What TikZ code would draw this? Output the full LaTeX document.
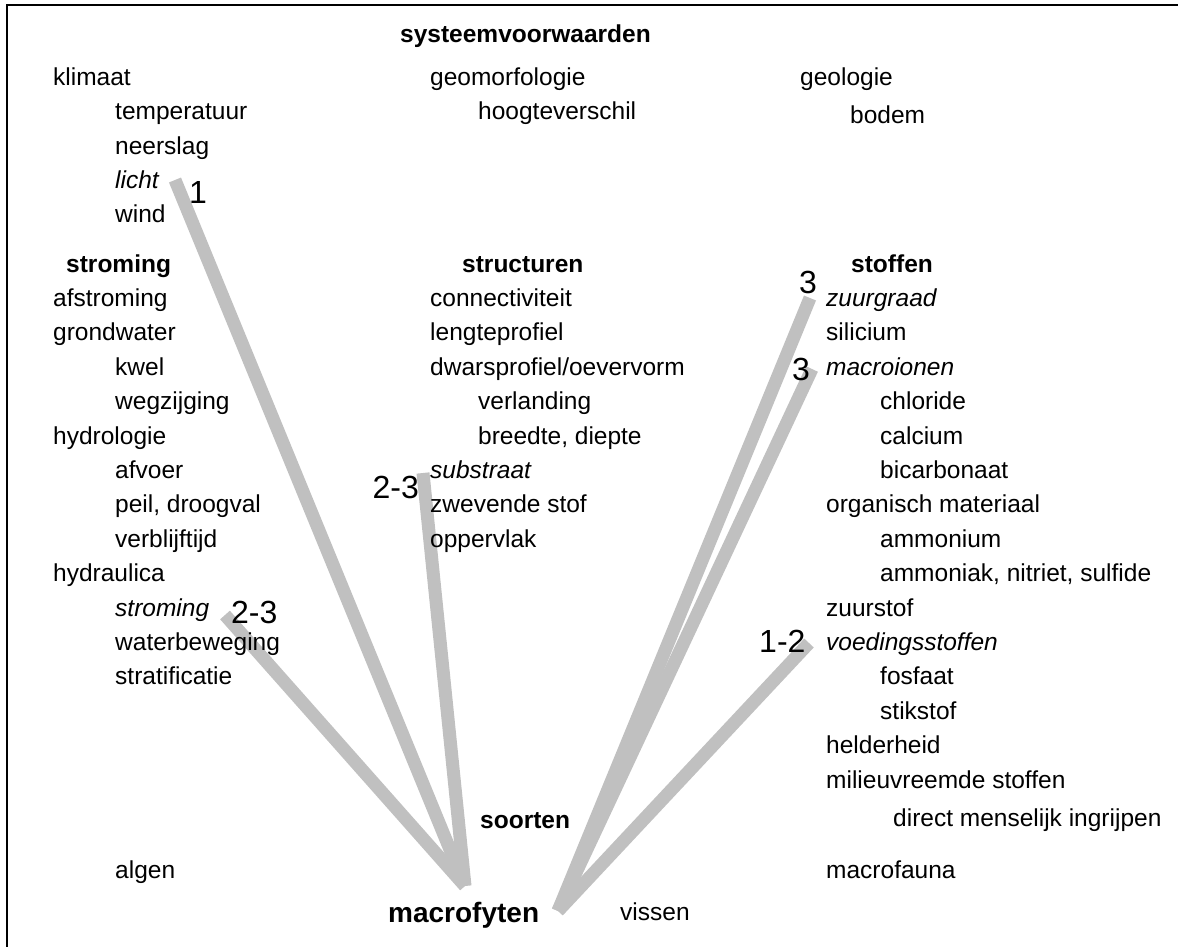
\documentclass[tikz,border=0pt]{standalone}
\usepackage{fontspec}
\setmainfont{Liberation Sans}
\definecolor{linkgrey}{RGB}{192,192,192}
\begin{document}
\begin{tikzpicture}[x=1pt,y=-1pt,
  lbl/.style={anchor=base west, inner sep=0pt, font=\fontsize{24.5}{29}\selectfont},
  head/.style={lbl, font=\fontsize{24.5}{29}\selectfont\bfseries},
  it/.style={lbl, font=\fontsize{24.5}{29}\selectfont\itshape},
  score/.style={anchor=base west, inner sep=0pt, font=\fontsize{32}{38}\selectfont},
  link/.style={line width=13pt, draw=linkgrey, line cap=butt}
]
\useasboundingbox (0,0) rectangle (1178,947);
\draw[line width=2pt] (7,947) -- (7,5) -- (1178,5);

% end points of the grey links
\coordinate (cLicht) at (175,180);
\coordinate (cStroming) at (225,615);
\coordinate (cSubstraat) at (423,473);
\coordinate (cZuur) at (810,298);
\coordinate (cMacro) at (812,369);
\coordinate (cVoeding) at (809,643);
\coordinate (cLeft) at (465,886);
\coordinate (cRight) at (558,911);

\draw[link] (cLicht) -- (cLeft);
\draw[link] (cStroming) -- (cLeft);
\draw[link] (cSubstraat) -- (cLeft);
\draw[link] (cZuur) -- (cRight);
\draw[link] (cMacro) -- (cRight);
\draw[link] (cVoeding) -- (cRight);

% system conditions
\node[head] (sysv) at (400,43) {systeemvoorwaarden};
\node[lbl] (klimaat) at (53,86) {klimaat};
\node[lbl] (temp) at (115,120) {temperatuur};
\node[lbl] (neerslag) at (115,154) {neerslag};
\node[it] (licht) at (115,188) {licht};
\node[lbl] (wind) at (115,222) {wind};
\node[lbl] (geomorf) at (430,86) {geomorfologie};
\node[lbl] (hoogte) at (478,120) {hoogteverschil};
\node[lbl] (geologie) at (800,86) {geologie};
\node[lbl] (bodem) at (850,124) {bodem};

% flow column
\node[head] (hStroming) at (66,272) {stroming};
\node[lbl] (afstroming) at (53,306.4) {afstroming};
\node[lbl] (grondwater) at (53,340.8) {grondwater};
\node[lbl] (kwel) at (115,375.2) {kwel};
\node[lbl] (wegzijging) at (115,409.6) {wegzijging};
\node[lbl] (hydrologie) at (53,444) {hydrologie};
\node[lbl] (afvoer) at (115,478.4) {afvoer};
\node[lbl] (peil) at (115,512.8) {peil, droogval};
\node[lbl] (verblijf) at (115,547.2) {verblijftijd};
\node[lbl] (hydraulica) at (53,581.6) {hydraulica};
\node[it] (stroming) at (115,616) {stroming};
\node[lbl] (waterbew) at (115,650.4) {waterbeweging};
\node[lbl] (strat) at (115,684.8) {stratificatie};

% structure column
\node[head] (hStruct) at (462,272) {structuren};
\node[lbl] (connect) at (430,306.4) {connectiviteit};
\node[lbl] (lengte) at (430,340.8) {lengteprofiel};
\node[lbl] (dwars) at (430,375.2) {dwarsprofiel/oevervorm};
\node[lbl] (verland) at (478,409.6) {verlanding};
\node[lbl] (breedte) at (478,444) {breedte, diepte};
\node[it] (substraat) at (430,478.4) {substraat};
\node[lbl] (zwevend) at (430,512.8) {zwevende stof};
\node[lbl] (opperv) at (430,547.2) {oppervlak};

% substances column
\node[head] (hStoffen) at (851,272) {stoffen};
\node[it] (zuurgraad) at (826,306.4) {zuurgraad};
\node[lbl] (silicium) at (826,340.8) {silicium};
\node[it] (macroionen) at (826,375.2) {macroionen};
\node[lbl] (chloride) at (880,409.6) {chloride};
\node[lbl] (calcium) at (880,444) {calcium};
\node[lbl] (bicarb) at (880,478.4) {bicarbonaat};
\node[lbl] (organisch) at (826,512.8) {organisch materiaal};
\node[lbl] (ammonium) at (880,547.2) {ammonium};
\node[lbl] (ammoniak) at (880,581.6) {ammoniak, nitriet, sulfide};
\node[lbl] (zuurstof) at (826,616) {zuurstof};
\node[it] (voeding) at (826,650.4) {voedingsstoffen};
\node[lbl] (fosfaat) at (880,684.8) {fosfaat};
\node[lbl] (stikstof) at (880,719.2) {stikstof};
\node[lbl] (helder) at (826,753.6) {helderheid};
\node[lbl] (milieu) at (826,788) {milieuvreemde stoffen};
\node[lbl] (ingrijpen) at (893,826) {direct menselijk ingrijpen};

% species
\node[head] (soorten) at (480,828) {soorten};
\node[lbl] (algen) at (115,878) {algen};
\node[lbl] (macrofauna) at (826,878) {macrofauna};
\node[anchor=base west, inner sep=0pt, font=\fontsize{28}{33}\selectfont\bfseries] (macrofyten) at (388,922) {macrofyten};
\node[lbl] (vissen) at (620,920) {vissen};

% scores
\node[score] (sLicht) at (189,204) {1};
\node[score, anchor=base east] (sSubstraat) at (419,498) {2-3};
\node[score] (sStroming) at (231,623) {2-3};
\node[score] (sZuur) at (799,293) {3};
\node[score] (sMacro) at (792,380) {3};
\node[score] (sVoeding) at (759,652) {1-2};
\end{tikzpicture}
\end{document}
